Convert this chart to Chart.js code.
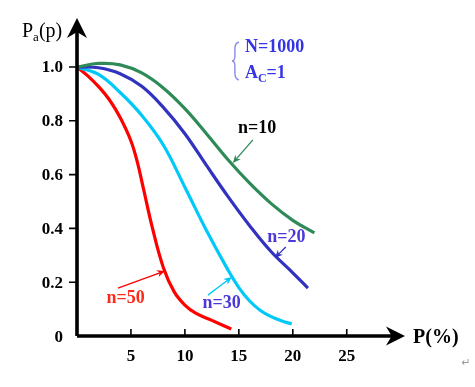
<!DOCTYPE html>
<html>
<head>
<meta charset="utf-8">
<script src="https://cdn.jsdelivr.net/npm/chart.js@4.4.1/dist/chart.umd.min.js"></script>
<style>
  html, body { margin: 0; padding: 0; background: #fff; }
  #wrap { width: 475px; height: 387px; }
</style>
</head>
<body>
<div id="wrap"><canvas id="c" width="475" height="387"></canvas></div>
<script>
// ---- data ----
const p10  = [0, 2, 4, 6, 8, 10, 12, 14, 16, 18, 20, 22];
const pa10 = [1.0, 1.013, 1.008, 0.978, 0.922, 0.845, 0.752, 0.655, 0.568, 0.492, 0.43, 0.383];

const p20  = [0, 2, 4, 6, 8, 10, 12, 14, 16, 18, 20, 21.4];
const pa20 = [1.0, 0.997, 0.975, 0.928, 0.85, 0.752, 0.634, 0.518, 0.41, 0.313, 0.235, 0.178];

const p30  = [0, 2, 4, 6, 8, 10, 12, 14, 15, 16, 17, 18, 19, 19.9];
const pa30 = [1.0, 0.972, 0.905, 0.82, 0.71, 0.553, 0.392, 0.245, 0.18, 0.13, 0.095, 0.072, 0.056, 0.045];

const p50  = [0, 1, 2, 3, 4, 5, 5.6, 6.2, 7, 8, 9, 10, 11, 12.5, 14.3];
const pa50 = [1.0, 0.967, 0.927, 0.878, 0.812, 0.725, 0.645, 0.54, 0.4, 0.255, 0.165, 0.115, 0.085, 0.058, 0.026];

const xTicks = [5, 10, 15, 20, 25];
const xTickLabels = ['5', '10', '15', '20', '25'];
const yTicks = [0, 0.2, 0.4, 0.6, 0.8, 1.0];
const yTickLabels = ['0', '0.2', '0.4', '0.6', '0.8', '1.0'];

const seriesNames = ['n=10', 'n=20', 'n=30', 'n=50'];
const seriesColors = ['#2e8b57', '#3232c0', '#00c8f8', '#ff0000'];
const labelColors = ['#000000', '#4a38d8', '#4a38d8', '#ff2a1a'];
// label placement (data units): text centre, arrow start, arrow tip
const labelPos  = [[16.7, 0.77], [19.4, 0.368], [13.4, 0.123], [4.5, 0.141]];
const arrowFrom = [[16.3, 0.729], [19.35, 0.331], [12.13, 0.152], [3.8, 0.178]];
const arrowTo   = [[14.44, 0.643], [18.33, 0.29], [14.35, 0.219], [8.15, 0.242]];

const X_MAX = 30.4, Y_MAX = 1.182;

function zip(xs, ys) { return xs.map((x, i) => ({ x: x, y: ys[i] })); }

const allX = [p10, p20, p30, p50];
const allY = [pa10, pa20, pa30, pa50];

const datasets = allX.map((xs, i) => ({
  label: seriesNames[i],
  data: zip(xs, allY[i]),
  borderColor: seriesColors[i],
  borderWidth: 3.2,
  pointRadius: 0,
  fill: false,
  tension: 0.4,
  clip: false
}));

const SERIF = '"Liberation Serif", "Times New Roman", serif';

function arrowHead(ctx, x1, y1, x2, y2, len, half, color) {
  const a = Math.atan2(y2 - y1, x2 - x1);
  ctx.save();
  ctx.translate(x2, y2);
  ctx.rotate(a);
  ctx.beginPath();
  ctx.moveTo(0, 0);
  ctx.lineTo(-len, -half);
  ctx.lineTo(-len * 0.7, 0);
  ctx.lineTo(-len, half);
  ctx.closePath();
  ctx.fillStyle = color;
  ctx.fill();
  ctx.restore();
}

const overlay = {
  id: 'overlay',
  afterDatasetsDraw(chart) {
    const ctx = chart.ctx;
    const xs = chart.scales.x, ys = chart.scales.y;
    const X = v => xs.getPixelForValue(v);
    const Y = v => ys.getPixelForValue(v);
    const x0 = X(0), y0 = Y(0);
    const xEnd = X(X_MAX), yEnd = Y(Y_MAX);

    ctx.save();
    // axes
    ctx.strokeStyle = '#000';
    ctx.lineWidth = 3.6;
    ctx.beginPath();
    ctx.moveTo(x0, y0);
    ctx.lineTo(xEnd - 10, y0);
    ctx.moveTo(x0, y0);
    ctx.lineTo(x0, yEnd + 10);
    ctx.stroke();
    arrowHead(ctx, x0, y0, xEnd, y0, 19, 9.5, '#000');
    arrowHead(ctx, x0, y0, x0, yEnd, 20, 10, '#000');

    // ticks
    ctx.lineWidth = 1.6;
    ctx.beginPath();
    xTicks.forEach(t => { ctx.moveTo(X(t), y0); ctx.lineTo(X(t), y0 - 7); });
    yTicks.forEach(t => { if (t > 0) { ctx.moveTo(x0, Y(t)); ctx.lineTo(x0 - 8, Y(t)); } });
    ctx.stroke();

    // tick labels
    ctx.fillStyle = '#000';
    ctx.font = 'bold 17px ' + SERIF;
    ctx.textAlign = 'center';
    ctx.textBaseline = 'middle';
    xTicks.forEach((t, i) => ctx.fillText(xTickLabels[i], X(t), y0 + 21));
    ctx.textAlign = 'right';
    yTicks.forEach((t, i) => ctx.fillText(yTickLabels[i], x0 - 14, Y(t) + (t === 0 ? 2 : 1)));

    // axis titles
    ctx.textAlign = 'left';
    ctx.textBaseline = 'alphabetic';
    ctx.font = '20px ' + SERIF;
    let tx = 22, ty = 37;
    ctx.fillText('P', tx, ty); tx += ctx.measureText('P').width;
    ctx.font = '13px ' + SERIF;
    ctx.fillText('a', tx, ty + 4); tx += ctx.measureText('a').width;
    ctx.font = '20px ' + SERIF;
    ctx.fillText('(p)', tx, ty);

    ctx.font = 'bold 20px ' + SERIF;
    ctx.fillText('P(%)', xEnd + 8, y0 + 7);

    // condition box
    const bx = X(15.56);
    ctx.fillStyle = '#3434e6';
    ctx.font = 'bold 18px ' + SERIF;
    ctx.fillText('N=1000', bx, Y(1.078) + 6);
    let ax = bx, ay = Y(0.981) + 6;
    ctx.fillText('A', ax, ay); ax += ctx.measureText('A').width;
    ctx.font = 'bold 12px ' + SERIF;
    ctx.fillText('C', ax, ay + 4); ax += ctx.measureText('C').width;
    ctx.font = 'bold 18px ' + SERIF;
    ctx.fillText('=1', ax, ay);

    // brace
    ctx.strokeStyle = '#8a8ae6';
    ctx.lineWidth = 1.4;
    const bt = 42, bm = 61, bb = 80, bxr = bx - 6, bxm = bx - 10, bxl = bx - 13;
    ctx.beginPath();
    ctx.moveTo(bxr, bt);
    ctx.quadraticCurveTo(bxm, bt + 1, bxm, bt + 7);
    ctx.lineTo(bxm, bm - 5);
    ctx.quadraticCurveTo(bxm, bm, bxl, bm);
    ctx.quadraticCurveTo(bxm, bm, bxm, bm + 5);
    ctx.lineTo(bxm, bb - 7);
    ctx.quadraticCurveTo(bxm, bb - 1, bxr, bb);
    ctx.stroke();

    // series labels and arrows
    ctx.font = 'bold 18px ' + SERIF;
    ctx.textAlign = 'center';
    ctx.textBaseline = 'middle';
    seriesNames.forEach((name, i) => {
      ctx.fillStyle = labelColors[i];
      ctx.fillText(name, X(labelPos[i][0]), Y(labelPos[i][1]));
      const fx = X(arrowFrom[i][0]), fy = Y(arrowFrom[i][1]);
      const tx2 = X(arrowTo[i][0]), ty2 = Y(arrowTo[i][1]);
      ctx.strokeStyle = seriesColors[i];
      ctx.lineWidth = 1.3;
      ctx.beginPath();
      ctx.moveTo(fx, fy);
      ctx.lineTo(tx2 - (tx2 - fx) * 0.08, ty2 - (ty2 - fy) * 0.08);
      ctx.stroke();
      arrowHead(ctx, fx, fy, tx2, ty2, 8, 3.5, seriesColors[i]);
    });

    // paragraph mark
    ctx.fillStyle = '#9a9a9a';
    ctx.font = '11px "DejaVu Sans", sans-serif';
    ctx.textAlign = 'center';
    ctx.fillText('\u21B5', 466, 363);
    ctx.restore();
  }
};

new Chart(document.getElementById('c'), {
  type: 'line',
  data: { datasets: datasets },
  options: {
    responsive: false,
    animation: false,
    devicePixelRatio: 1,
    layout: { padding: { left: 77, right: 70, top: 18, bottom: 51 } },
    scales: {
      x: { type: 'linear', min: 0, max: X_MAX, display: false },
      y: { type: 'linear', min: 0, max: Y_MAX, display: false }
    },
    plugins: { legend: { display: false }, tooltip: { enabled: false } }
  },
  plugins: [overlay]
});
</script>
</body>
</html>
